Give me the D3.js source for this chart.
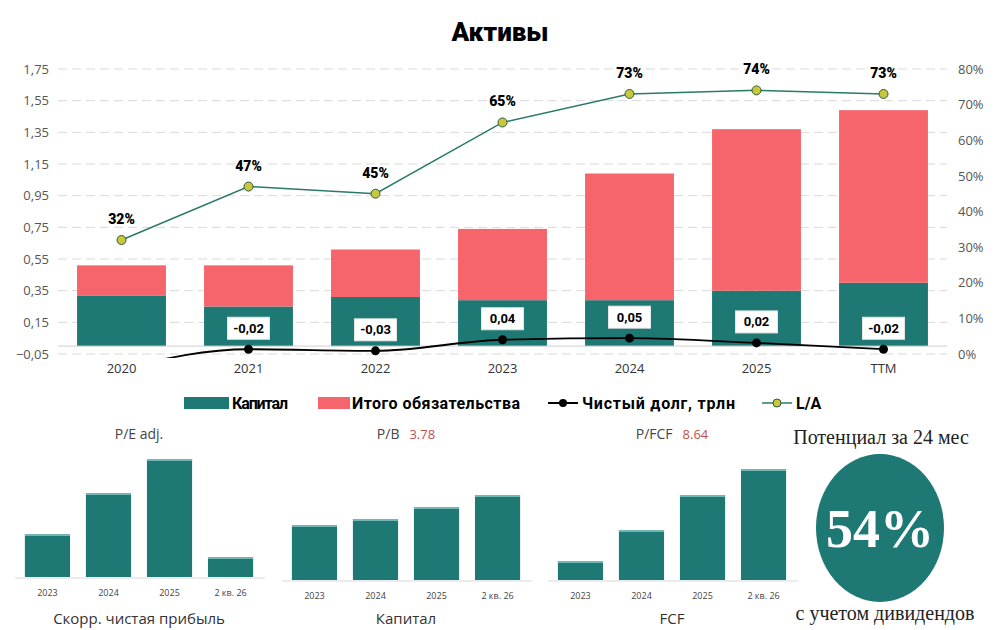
<!DOCTYPE html>
<html><head><meta charset="utf-8">
<script src="https://cdn.jsdelivr.net/npm/d3@7"></script>
<style>body{margin:0;background:#fff}svg{display:block}</style>
</head><body>
<svg id="c" width="1000" height="630"></svg>
<script>
// main chart data
const years = ["2020","2021","2022","2023","2024","2025","TTM"];
const capital = [0.32,0.25,0.31,0.29,0.29,0.35,0.40];
const liabilities = [0.19,0.26,0.30,0.45,0.80,1.02,1.09];
const netDebt = [-0.14,-0.02,-0.03,0.04,0.05,0.02,-0.02];
const netDebtLabels = [null,"-0,02","-0,03","0,04","0,05","0,02","-0,02"];
const la = [32,47,45,65,73,74,73];
const leftTicks = [-0.05,0.15,0.35,0.55,0.75,0.95,1.15,1.35,1.55,1.75];
const rightTicks = [0,10,20,30,40,50,60,70,80];

// small charts
const smallCats = ["2023","2024","2025","2 кв. 26"];
const peVals = [43,84,118,20];
const capVals = [55,61,73,85];
const fcfVals = [19,50,85,111];

const teal = "#1e7873", red = "#f6656c";
const svg = d3.select("#c");
const fmt = d => d3.format(".2f")(d).replace(".", ",");

const x = d3.scaleBand().domain(years).range([58,947]).paddingInner(0.3).paddingOuter(0.15);
const y = d3.scaleLinear().domain([-0.05,1.75]).range([354,69]);
const y2 = d3.scaleLinear().domain([0,80]).range([354,69]);

svg.append("text").attr("x",500).attr("y",41).attr("text-anchor","middle")
  .attr("font-family","Roboto, sans-serif").attr("font-weight","900").attr("font-size",26).text("Активы");

// grid
svg.append("g").selectAll("line").data(leftTicks).join("line")
  .attr("x1",58).attr("x2",947).attr("y1",d=>y(d)).attr("y2",d=>y(d))
  .attr("stroke","#d9d9d9").attr("stroke-dasharray","9,5");

const ax = svg.append("g").attr("transform","translate(52,0)")
  .call(d3.axisLeft(y).tickValues(leftTicks).tickFormat(fmt).tickSize(0));
ax.select(".domain").remove();
ax.selectAll("text").attr("font-family","Open Sans, sans-serif").attr("font-size",13).attr("fill","#555");
const ar = svg.append("g").attr("transform","translate(955,0)")
  .call(d3.axisRight(y2).tickValues(rightTicks).tickFormat(d=>d+"%").tickSize(0));
ar.select(".domain").remove();
ar.selectAll("text").attr("font-family","Open Sans, sans-serif").attr("font-size",13).attr("fill","#555");

// bars
svg.append("g").selectAll("rect").data(years).join("rect")
  .attr("x",d=>x(d)).attr("width",x.bandwidth())
  .attr("y",(d,i)=>y(capital[i])).attr("height",(d,i)=>y(0)-y(capital[i])).attr("fill",teal);
svg.append("g").selectAll("rect").data(years).join("rect")
  .attr("x",d=>x(d)).attr("width",x.bandwidth())
  .attr("y",(d,i)=>y(capital[i]+liabilities[i])).attr("height",(d,i)=>y(capital[i])-y(capital[i]+liabilities[i])).attr("fill",red);
svg.append("line").attr("x1",58).attr("x2",947).attr("y1",y(0)).attr("y2",y(0)).attr("stroke","#d0d0d0");

// x labels
svg.append("g").selectAll("text").data(years).join("text")
  .attr("x",d=>x(d)+x.bandwidth()/2).attr("y",373).attr("text-anchor","middle")
  .attr("font-family","Open Sans, sans-serif").attr("font-size",13).attr("fill","#333").text(d=>d);

// net debt line (clipped)
svg.append("clipPath").attr("id","clip").append("rect").attr("x",58).attr("y",60).attr("width",890).attr("height",298);
const cx = d => x(d)+x.bandwidth()/2;
svg.append("path").datum(netDebt).attr("clip-path","url(#clip)")
  .attr("d",d3.line().x((d,i)=>cx(years[i])).y(d=>y(d)).curve(d3.curveMonotoneX))
  .attr("fill","none").attr("stroke","#000").attr("stroke-width",1.8);
svg.append("g").selectAll("circle").data(netDebt.slice(1)).join("circle")
  .attr("cx",(d,i)=>cx(years[i+1])).attr("cy",d=>y(d)).attr("r",4.5).attr("fill","#000");
netDebtLabels.forEach((t,i)=>{
  if(!t) return;
  const g = svg.append("g").attr("transform",`translate(${cx(years[i])},${y(netDebt[i])-21})`);
  g.append("rect").attr("x",-21).attr("y",-11).attr("width",42).attr("height",22).attr("fill","#fff")
    .attr("stroke","#e6e6e6");
  g.append("text").attr("text-anchor","middle").attr("dy","0.35em")
    .attr("font-family","Roboto, sans-serif").attr("font-weight","bold").attr("font-size",13).text(t);
});

// L/A line
svg.append("path").datum(la)
  .attr("d",d3.line().x((d,i)=>cx(years[i])).y(d=>y2(d)))
  .attr("fill","none").attr("stroke","#2a7a68").attr("stroke-width",1.5);
svg.append("g").selectAll("circle").data(la).join("circle")
  .attr("cx",(d,i)=>cx(years[i])).attr("cy",d=>y2(d)).attr("r",4.5)
  .attr("fill","#c9c83c").attr("stroke","#2f5a3a").attr("stroke-width",1);
svg.append("g").selectAll("text").data(la).join("text")
  .attr("x",(d,i)=>cx(years[i])).attr("y",d=>y2(d)-16).attr("text-anchor","middle")
  .attr("font-family","Roboto, sans-serif").attr("font-weight","900").attr("font-size",14).text(d=>d+"%");

// legend
const leg = svg.append("g").attr("font-family","Roboto, sans-serif").attr("font-weight","bold").attr("font-size",16);
leg.append("rect").attr("x",184).attr("y",397).attr("width",45).attr("height",12).attr("fill",teal);
leg.append("text").attr("x",232).attr("y",409).attr("textLength",56).text("Капитал");
leg.append("rect").attr("x",318).attr("y",397).attr("width",32).attr("height",12).attr("fill",red);
leg.append("text").attr("x",352).attr("y",409).attr("textLength",168).text("Итого обязательства");
leg.append("line").attr("x1",548).attr("x2",578).attr("y1",403).attr("y2",403).attr("stroke","#000").attr("stroke-width",2);
leg.append("circle").attr("cx",563).attr("cy",403).attr("r",4).attr("fill","#000");
leg.append("text").attr("x",582).attr("y",409).attr("textLength",153).text("Чистый долг, трлн");
leg.append("line").attr("x1",762).attr("x2",792).attr("y1",403).attr("y2",403).attr("stroke","#2a7a68").attr("stroke-width",1.5);
leg.append("circle").attr("cx",777).attr("cy",403).attr("r",4).attr("fill","#c9c83c").attr("stroke","#2f5a3a");
leg.append("text").attr("x",796).attr("y",409).text("L/A");

// small charts
function small(x0, base, vals, title, value, caption){
  const sx = d3.scaleBand().domain(smallCats).range([x0,x0+238]).paddingInner(0.26).paddingOuter(0.08);
  const sy = d3.scaleLinear().domain([0,120]).range([base,base-120]);
  const g = svg.append("g");
  g.selectAll("rect").data(vals).join("rect")
    .attr("x",(d,i)=>sx(smallCats[i])).attr("width",sx.bandwidth())
    .attr("y",d=>sy(d)).attr("height",d=>base-sy(d)).attr("fill",teal);
  g.selectAll("line.top").data(vals).join("line")
    .attr("x1",(d,i)=>sx(smallCats[i])).attr("x2",(d,i)=>sx(smallCats[i])+sx.bandwidth())
    .attr("y1",d=>sy(d)+1).attr("y2",d=>sy(d)+1).attr("stroke","#8fcdc8").attr("stroke-width",1.5);
  g.append("line").attr("x1",x0-5).attr("x2",x0+245).attr("y1",base+1).attr("y2",base+1).attr("stroke","#d8d8d8");
  g.selectAll("text.c").data(smallCats).join("text")
    .attr("x",d=>sx(d)+sx.bandwidth()/2).attr("y",base+19).attr("text-anchor","middle")
    .attr("font-family","Open Sans, sans-serif").attr("font-size",9).attr("fill","#444").text(d=>d);
  const cxm = x0+119;
  const t = g.append("text").attr("x",cxm).attr("y",439).attr("text-anchor","middle")
    .attr("font-family","Open Sans, sans-serif").attr("font-size",14).attr("fill","#444");
  t.append("tspan").text(title);
  if(value) t.append("tspan").attr("dx",10).attr("fill","#c0504d").attr("font-size",13).text(value);
  g.append("text").attr("x",cxm).attr("y",624).attr("text-anchor","middle")
    .attr("font-family","Open Sans, sans-serif").attr("font-size",15).attr("fill","#333").text(caption);
}
small(20,577,peVals,"P/E adj.",null,"Скорр. чистая прибыль");
small(287,580,capVals,"P/B","3.78","Капитал");
small(553,580,fcfVals,"P/FCF","8.64","FCF");

// potential
const serif = "Liberation Serif, DejaVu Serif, serif";
svg.append("text").attr("x",881).attr("y",444).attr("text-anchor","middle")
  .attr("font-family",serif).attr("font-size",20).attr("fill","#222").text("Потенциал за 24 мес");
svg.append("ellipse").attr("cx",880).attr("cy",528).attr("rx",64).attr("ry",74).attr("fill",teal);
svg.append("text").attr("x",880).attr("y",547).attr("text-anchor","middle")
  .attr("font-family",serif).attr("font-weight","bold").attr("font-size",54).attr("fill","#fff").text("54%");
svg.append("text").attr("x",885).attr("y",620).attr("text-anchor","middle")
  .attr("font-family",serif).attr("font-size",20).attr("fill","#222").text("с учетом дивидендов");
</script>
</body></html>
